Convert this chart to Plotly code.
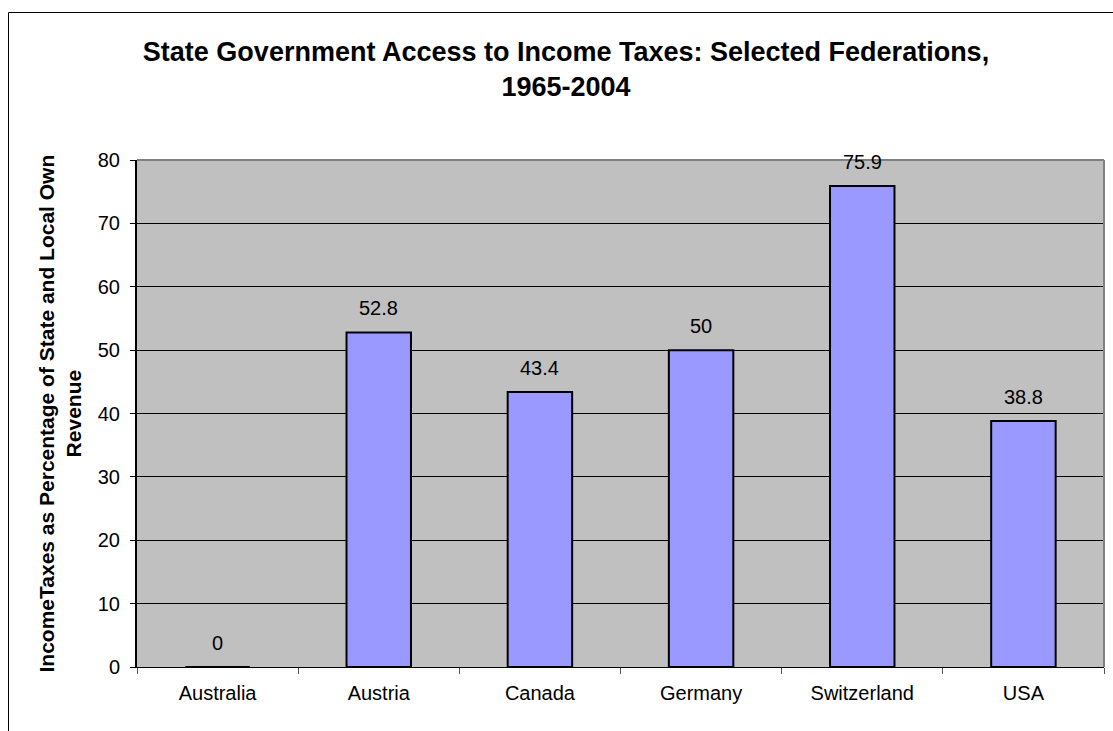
import plotly.graph_objects as go

countries = ["Australia", "Austria", "Canada", "Germany", "Switzerland", "USA"]
income_tax_share = [0, 52.8, 43.4, 50, 75.9, 38.8]
value_labels = ["0", "52.8", "43.4", "50", "75.9", "38.8"]
y_ticks = [0, 10, 20, 30, 40, 50, 60, 70, 80]

FONT = "Arial, Liberation Sans, sans-serif"

W, H = 1113, 731
L, R, T, B = 137, 9, 160, 64
pw, ph = W - L - R, H - T - B

def px_x(p):
    return (p - L) / pw

def px_y(p):
    return (H - B - p) / ph

fig = go.Figure()
fig.add_trace(go.Bar(
    x=countries, y=income_tax_share,
    marker=dict(color="#9999FF", line=dict(color="black", width=2)),
    hoverinfo="x+y", showlegend=False,
))

annotations = []
for c, v, t in zip(countries, income_tax_share, value_labels):
    annotations.append(dict(
        x=c, y=v, xref="x", yref="y", text=t, showarrow=False,
        yanchor="bottom", yshift=11, font=dict(family=FONT, size=20, color="black"),
    ))

annotations.append(dict(
    text="<b>IncomeTaxes as Percentage of State and Local Own<br>Revenue</b>",
    x=px_x(59), y=0.5, xref="paper", yref="paper", textangle=-90,
    xanchor="center", yanchor="middle", showarrow=False,
    font=dict(family=FONT, size=21, color="black"),
))

shapes = [
    # outer chart border (extends beyond the visible page on right/bottom)
    dict(type="line", xref="paper", yref="paper",
         x0=px_x(8.5), x1=px_x(1130), y0=px_y(12.5), y1=px_y(12.5),
         line=dict(color="black", width=1), layer="above"),
    dict(type="line", xref="paper", yref="paper",
         x0=px_x(8.5), x1=px_x(8.5), y0=px_y(12.5), y1=px_y(760),
         line=dict(color="black", width=1), layer="above"),
    # plot area top and right gray border
    dict(type="line", xref="paper", yref="paper", x0=0, x1=1, y0=1, y1=1,
         line=dict(color="#808080", width=2), layer="above"),
    dict(type="line", xref="paper", yref="paper", x0=1, x1=1, y0=0, y1=1,
         line=dict(color="#808080", width=2), layer="above"),
]

fig.update_layout(
    width=W, height=H,
    margin=dict(l=L, r=R, t=T, b=B, pad=0),
    paper_bgcolor="white", plot_bgcolor="#C0C0C0",
    bargap=0.6,
    title=dict(
        text="<b>State Government Access to Income Taxes: Selected Federations,<br>1965-2004</b>",
        x=566 / W, xanchor="center", xref="container",
        y=1 - 61 / H, yanchor="top", yref="container",
        font=dict(family=FONT, size=27, color="black"),
    ),
    xaxis=dict(
        type="category", showgrid=False, showline=True, linecolor="black", linewidth=1,
        ticks="outside", tickson="boundaries", ticklen=6, tickcolor="#555555",
        tickfont=dict(family=FONT, size=20, color="black"),
        ticklabelstandoff=8, fixedrange=True,
    ),
    yaxis=dict(
        range=[0, 80], tickvals=y_ticks, showgrid=True, gridcolor="black", gridwidth=1,
        showline=True, linecolor="black", linewidth=2, zeroline=False,
        ticks="outside", ticklen=5, tickcolor="black",
        tickfont=dict(family=FONT, size=20, color="black"),
        ticklabelstandoff=6, fixedrange=True,
    ),
    annotations=annotations,
    shapes=shapes,
    font=dict(family=FONT, color="black"),
)

fig.write_html("out.html")
